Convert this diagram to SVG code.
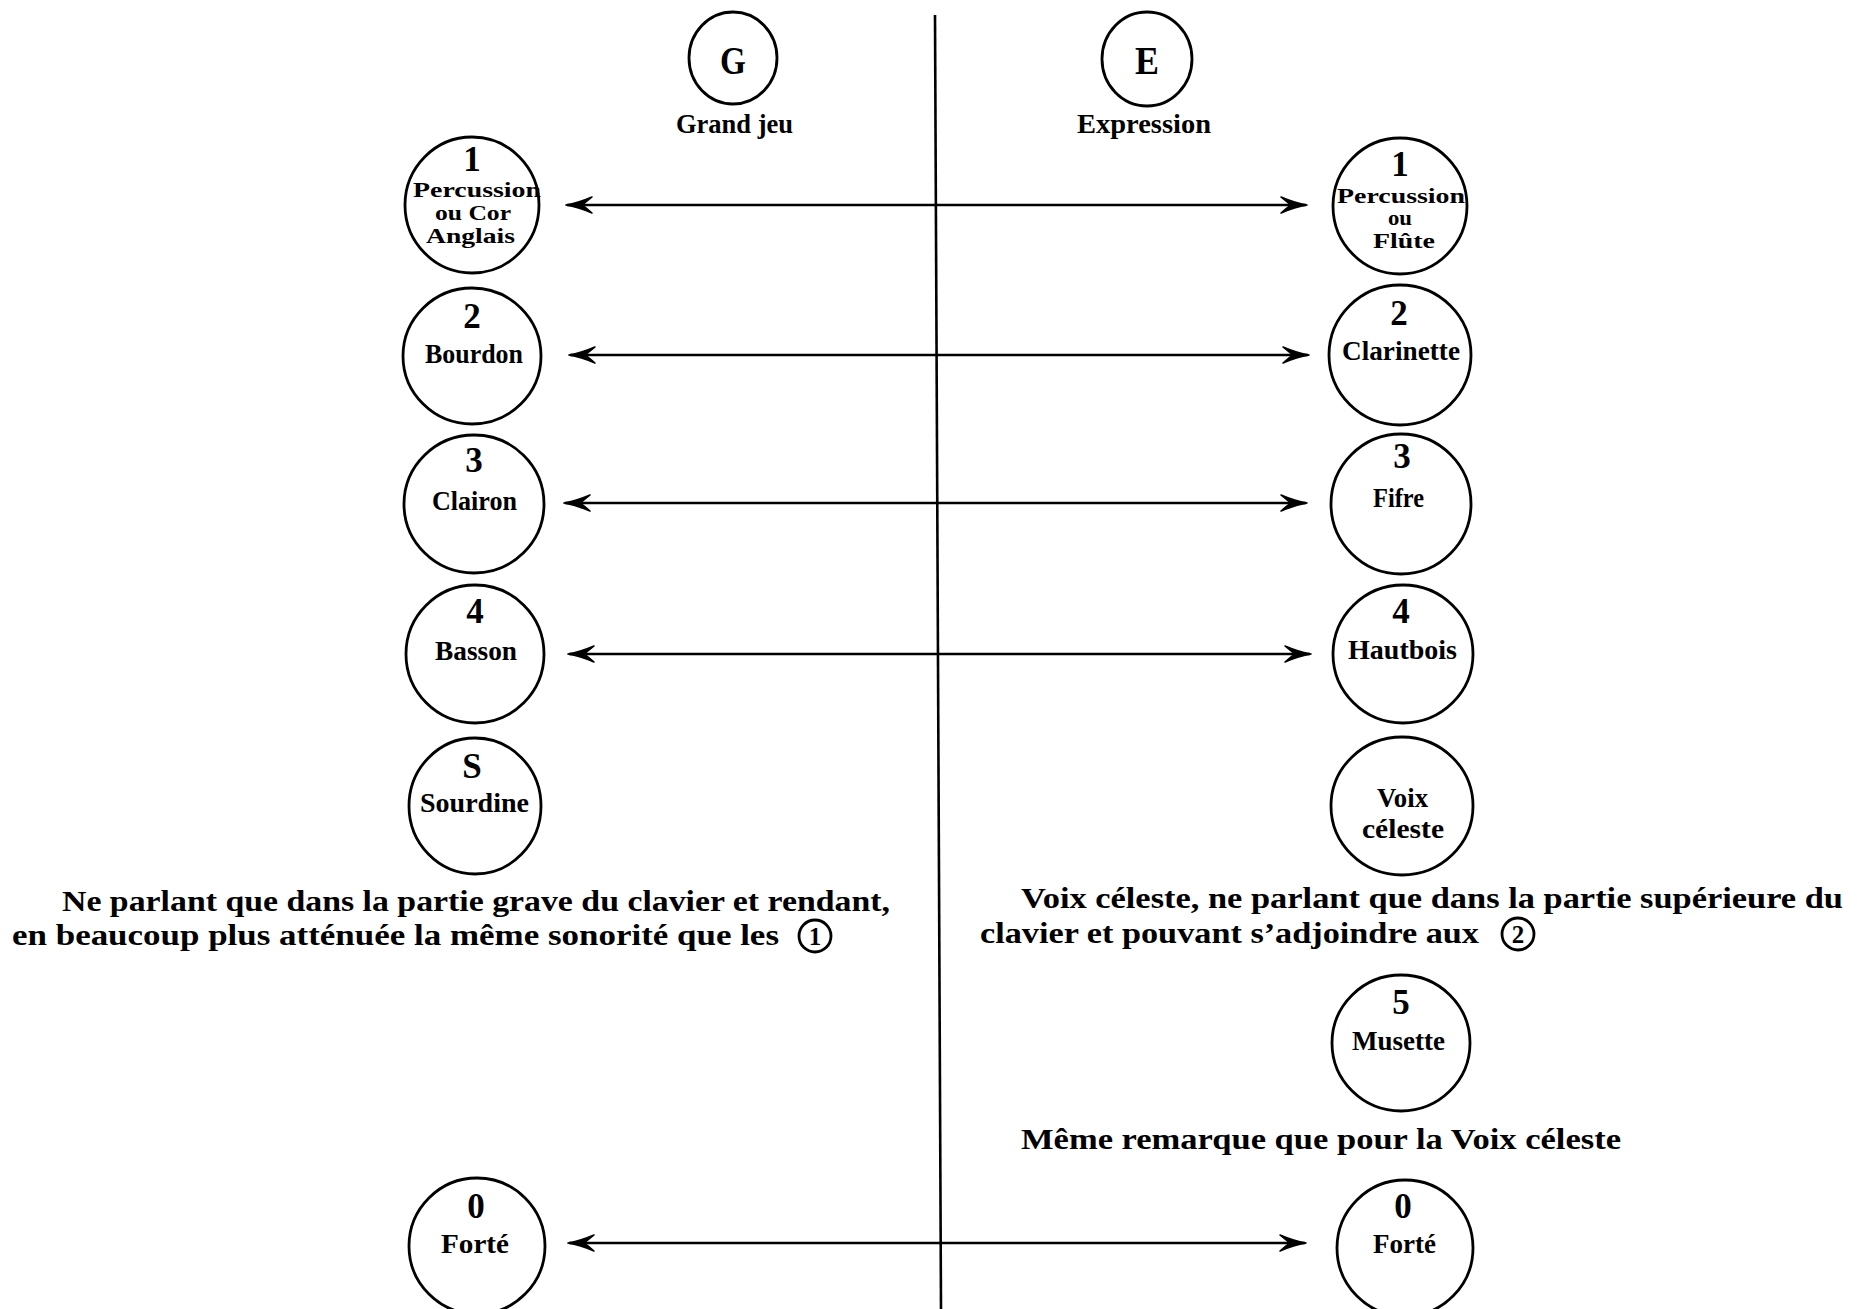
<svg xmlns="http://www.w3.org/2000/svg" width="1865" height="1309" viewBox="0 0 1865 1309">
<style>
.n{fill:none;stroke:#000;stroke-width:2.8}
.t{font-family:"Liberation Serif","Times New Roman",serif;font-weight:bold;fill:#000}
.lab{font-size:28px;text-anchor:start}
.num{font-size:35px;text-anchor:middle}
.big{font-size:40px;text-anchor:middle}
.par{font-size:30px}
.c{fill:none;stroke:#000;stroke-width:2.6}
.small{font-size:20px;text-anchor:start}
</style>
<defs>
<marker id="ah" viewBox="-28 -10 30 20" refX="0" refY="0" markerWidth="30" markerHeight="20" markerUnits="userSpaceOnUse" orient="auto-start-reverse">
<path d="M1,0 Q-11,-2 -25,-8 Q-19,-3 -15,0 Q-19,3 -25,8 Q-11,2 1,0 Z" fill="#000" stroke="#000" stroke-width="1.6" stroke-linejoin="round"/>
</marker>
</defs>
<rect width="1865" height="1309" fill="#fff"/>

<g id="connectors">
<line x1="935" y1="15" x2="941" y2="1309" stroke="#000" stroke-width="2.6"/>
<line x1="567" y1="205" x2="1306" y2="205" class="c" marker-start="url(#ah)" marker-end="url(#ah)"/>
<line x1="570" y1="355" x2="1308" y2="355" class="c" marker-start="url(#ah)" marker-end="url(#ah)"/>
<line x1="565" y1="503" x2="1306" y2="503" class="c" marker-start="url(#ah)" marker-end="url(#ah)"/>
<line x1="569" y1="654" x2="1310" y2="654" class="c" marker-start="url(#ah)" marker-end="url(#ah)"/>
<line x1="569" y1="1243" x2="1305" y2="1243" class="c" marker-start="url(#ah)" marker-end="url(#ah)"/>
</g>

<g id="node-G">
<ellipse class="n" cx="733" cy="58" rx="44" ry="46"/>
<text class="t big" x="733" y="74" textLength="26" lengthAdjust="spacingAndGlyphs">G</text>
<text class="t lab" x="676" y="133" textLength="117" lengthAdjust="spacingAndGlyphs">Grand jeu</text>
</g>
<g id="node-E">
<ellipse class="n" cx="1147" cy="59" rx="45" ry="47"/>
<text class="t big" x="1147" y="74" textLength="24" lengthAdjust="spacingAndGlyphs">E</text>
<text class="t lab" x="1077" y="133" textLength="134" lengthAdjust="spacingAndGlyphs">Expression</text>
</g>

<g id="node-L1">
<ellipse class="n" cx="472" cy="205" rx="67" ry="68"/>
<text class="t num" x="472" y="171" font-size="34">1</text>
<text class="t small" x="413" y="197" textLength="128" lengthAdjust="spacingAndGlyphs">Percussion</text>
<text class="t small" x="435" y="220" textLength="76" lengthAdjust="spacingAndGlyphs">ou Cor</text>
<text class="t small" x="426" y="243" textLength="89" lengthAdjust="spacingAndGlyphs">Anglais</text>
</g>
<g id="node-L2">
<ellipse class="n" cx="472" cy="356" rx="69" ry="68"/>
<text class="t num" x="472" y="328">2</text>
<text class="t lab" x="425" y="363" textLength="98" lengthAdjust="spacingAndGlyphs">Bourdon</text>
</g>
<g id="node-L3">
<ellipse class="n" cx="474" cy="504" rx="70" ry="69"/>
<text class="t num" x="474" y="472">3</text>
<text class="t lab" x="432" y="510" textLength="85" lengthAdjust="spacingAndGlyphs">Clairon</text>
</g>
<g id="node-L4">
<ellipse class="n" cx="475" cy="654" rx="69" ry="69"/>
<text class="t num" x="475" y="623">4</text>
<text class="t lab" x="435" y="660" textLength="82" lengthAdjust="spacingAndGlyphs">Basson</text>
</g>
<g id="node-LS">
<ellipse class="n" cx="475" cy="806" rx="66" ry="68"/>
<text class="t num" x="472" y="778">S</text>
<text class="t lab" x="420" y="812" textLength="109" lengthAdjust="spacingAndGlyphs">Sourdine</text>
</g>
<g id="node-L0">
<ellipse class="n" cx="477" cy="1246" rx="68" ry="68"/>
<text class="t num" x="476" y="1218">0</text>
<text class="t lab" x="441" y="1253" textLength="68" lengthAdjust="spacingAndGlyphs">Forté</text>
</g>

<g id="node-R1">
<ellipse class="n" cx="1400" cy="206" rx="67" ry="68"/>
<text class="t num" x="1400" y="176" font-size="34">1</text>
<text class="t small" x="1337" y="203" textLength="128" lengthAdjust="spacingAndGlyphs">Percussion</text>
<text class="t small" x="1388" y="225" textLength="24" lengthAdjust="spacingAndGlyphs">ou</text>
<text class="t small" x="1373" y="248" textLength="62" lengthAdjust="spacingAndGlyphs">Flûte</text>
</g>
<g id="node-R2">
<ellipse class="n" cx="1400" cy="355" rx="71" ry="70"/>
<text class="t num" x="1399" y="325">2</text>
<text class="t lab" x="1342" y="360" textLength="118" lengthAdjust="spacingAndGlyphs">Clarinette</text>
</g>
<g id="node-R3">
<ellipse class="n" cx="1401" cy="504" rx="70" ry="70"/>
<text class="t num" x="1402" y="468">3</text>
<text class="t lab" x="1373" y="507" textLength="51" lengthAdjust="spacingAndGlyphs">Fifre</text>
</g>
<g id="node-R4">
<ellipse class="n" cx="1403" cy="654" rx="70" ry="69"/>
<text class="t num" x="1401" y="623">4</text>
<text class="t lab" x="1348" y="659" textLength="109" lengthAdjust="spacingAndGlyphs">Hautbois</text>
</g>
<g id="node-RV">
<ellipse class="n" cx="1402" cy="806" rx="71" ry="69"/>
<text class="t lab" x="1377" y="807" textLength="51" lengthAdjust="spacingAndGlyphs">Voix</text>
<text class="t lab" x="1362" y="838" textLength="82" lengthAdjust="spacingAndGlyphs">céleste</text>
</g>
<g id="node-R5">
<ellipse class="n" cx="1401" cy="1043" rx="69" ry="68"/>
<text class="t num" x="1401" y="1014">5</text>
<text class="t lab" x="1352" y="1050" textLength="93" lengthAdjust="spacingAndGlyphs">Musette</text>
</g>
<g id="node-R0">
<ellipse class="n" cx="1405" cy="1248" rx="68" ry="68"/>
<text class="t num" x="1403" y="1218">0</text>
<text class="t lab" x="1373" y="1253" textLength="63" lengthAdjust="spacingAndGlyphs">Forté</text>
</g>

<g id="note-left">
<text class="t par" x="62" y="911" textLength="828" lengthAdjust="spacingAndGlyphs">Ne parlant que dans la partie grave du clavier et rendant,</text>
<text class="t par" x="12" y="945" textLength="767" lengthAdjust="spacingAndGlyphs">en beaucoup plus atténuée la même sonorité que les</text>
<ellipse class="n" cx="815" cy="936" rx="16" ry="16"/>
<text class="t" x="815" y="945" font-size="25" text-anchor="middle">1</text>
</g>
<g id="note-right">
<text class="t par" x="1021" y="908" textLength="822" lengthAdjust="spacingAndGlyphs">Voix céleste, ne parlant que dans la partie supérieure du</text>
<text class="t par" x="980" y="943" textLength="499" lengthAdjust="spacingAndGlyphs">clavier et pouvant s’adjoindre aux</text>
<ellipse class="n" cx="1518" cy="934" rx="16" ry="16"/>
<text class="t" x="1518" y="943" font-size="25" text-anchor="middle">2</text>
<text class="t par" x="1021" y="1149" textLength="600" lengthAdjust="spacingAndGlyphs">Même remarque que pour la Voix céleste</text>
</g>
</svg>
